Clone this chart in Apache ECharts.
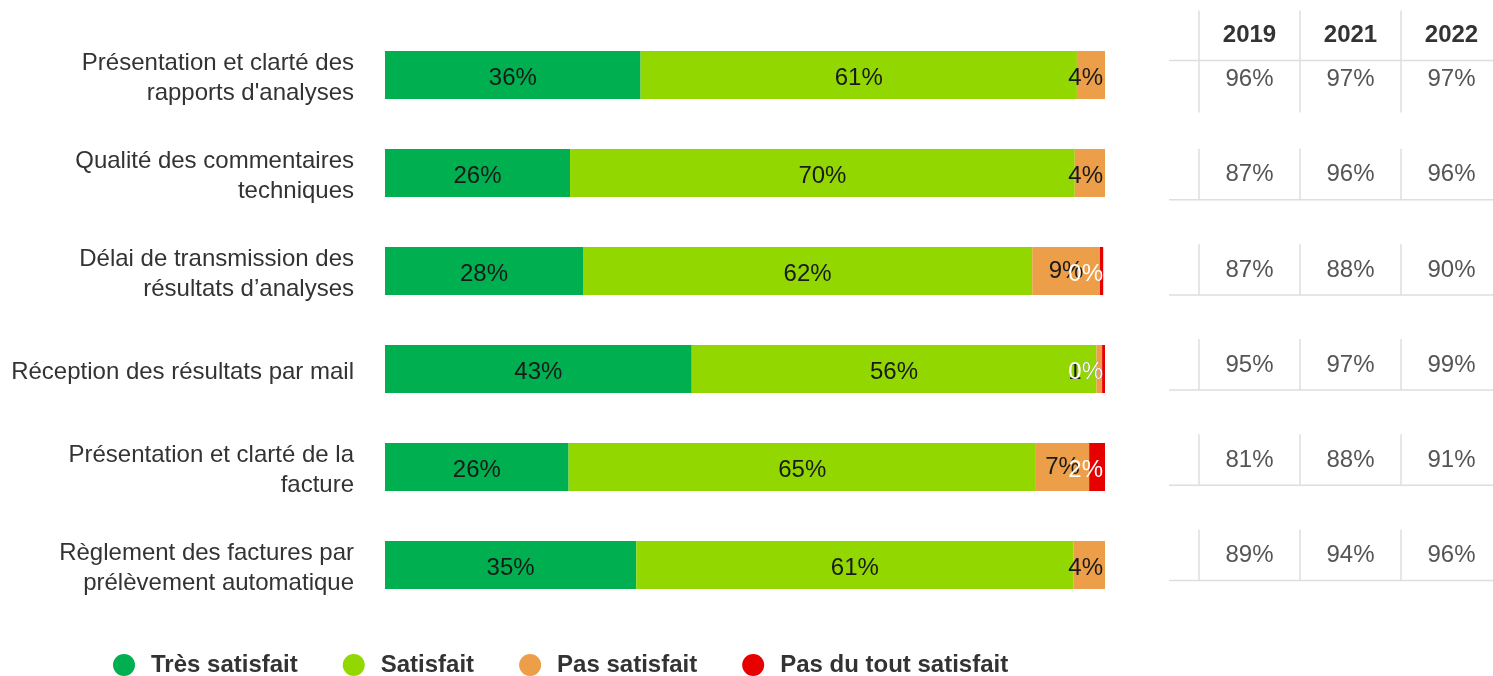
<!DOCTYPE html>
<html>
<head>
<meta charset="utf-8">
<title>Satisfaction</title>
<script src="https://cdn.jsdelivr.net/npm/echarts@6/dist/echarts.min.js"></script>
<style>
  html, body { margin: 0; padding: 0; background: #fff; }
  #chart { width: 1493px; height: 676px; }
</style>
</head>
<body>
<div id="chart"></div>
<script>
// questions (one row per bar)
var categories = [
    "Présentation et clarté des\nrapports d'analyses",
    "Qualité des commentaires\ntechniques",
    "Délai de transmission des\nrésultats d’analyses",
    "Réception des résultats par mail",
    "Présentation et clarté de la\nfacture",
    "Règlement des factures par\nprélèvement automatique"
];

// 2022 answers, in %
var tresSatisfait = [35.5, 25.7, 27.5, 42.6, 25.5, 34.9];
var satisfait = [60.6, 70.1, 62.4, 56.2, 64.9, 60.7];
var pasSatisfait = [3.9, 4.2, 9.4, 0.8, 7.4, 4.4];
var pasDuTout = [0, 0, 0.45, 0.4, 2.2, 0];

// satisfaction rate history
var years = ['2019', '2021', '2022'];
var score2019 = [96, 87, 87, 95, 81, 89];
var score2021 = [97, 96, 88, 97, 88, 94];
var score2022 = [97, 96, 90, 99, 91, 96];

var dom = document.getElementById("chart");
var myChart = echarts.init(dom);

var FONT = '"Liberation Sans", Arial, sans-serif';
var PLOT_LEFT = 385, PLOT_WIDTH = 720;

function pctLabel(color) {
    return {
        show: true,
        position: 'inside',
        color: color,
        fontSize: 24,
        fontFamily: FONT,
        offset: [0, 3],
        formatter: function (p) {
            if (p.value === 0) { return ''; }
            return Math.round(p.value) + '%';
        }
    };
}

// keep labels inside the plot (shift the ones that overflow on the right)
function justifyLabel(params) {
    var r = params.labelRect;
    var right = PLOT_LEFT + PLOT_WIDTH - 2;
    if (r && r.x + r.width > right) {
        return { x: right, y: r.y + r.height / 2, align: 'right', verticalAlign: 'middle' };
    }
    return {};
}

var tableData = [];
var scoreCols = [score2019, score2021, score2022];
for (var c = 0; c < scoreCols.length; c++) {
    for (var r = 0; r < categories.length; r++) {
        tableData.push([c, r, scoreCols[c][r]]);
    }
}

function renderCell(params, api) {
    var col = api.value(0);
    var row = api.value(1);
    var pt = api.coord([col, row]);
    var cw = api.size([1, 0])[0];
    var left = pt[0] - cw / 2;
    var lineStyle = { stroke: '#dedede', lineWidth: 1.5 };
    var children = [{
        type: 'text',
        style: {
            text: api.value(2) + '%',
            x: pt[0],
            y: pt[1],
            align: 'center',
            verticalAlign: 'middle',
            font: '24px ' + FONT,
            fill: '#555555'
        }
    }];
    var top = pt[1] - 26, bottom = pt[1] + 25;
    if (row === 0) {
        top = pt[1] - 69;
        bottom = pt[1] + 33;
    }
    children.push({ type: 'line', shape: { x1: left, y1: top, x2: left, y2: bottom }, style: lineStyle });
    if (col === 0) {
        var hy = row === 0 ? pt[1] - 19 : bottom;
        children.push({ type: 'line', shape: { x1: left - 30, y1: hy, x2: left + cw * 3 + 10, y2: hy }, style: lineStyle });
    }
    return { type: 'group', children: children };
}

var option = {
    backgroundColor: '#ffffff',
    animation: false,
    color: ['#00AF50', '#92D800', '#EC9F48', '#E60000'],
    legend: {
        left: 108,
        top: 648,
        icon: 'circle',
        itemWidth: 44,
        itemHeight: 22,
        itemGap: 45,
        textStyle: { fontSize: 24, fontWeight: 'bold', color: '#333333', fontFamily: FONT },
        data: ['Très satisfait', 'Satisfait', 'Pas satisfait', 'Pas du tout satisfait']
    },
    grid: [
        { left: PLOT_LEFT, width: PLOT_WIDTH, top: 26, height: 588, containLabel: false, outerBoundsMode: 'none' },
        { left: 1199, width: 303, top: 32, height: 571, containLabel: false, outerBoundsMode: 'none' }
    ],
    xAxis: [
        {
            gridIndex: 0,
            type: 'value',
            min: 0,
            max: 100,
            show: false
        },
        {
            gridIndex: 1,
            type: 'category',
            data: years,
            position: 'top',
            offset: -23,
            axisLine: { show: false },
            axisTick: { show: false },
            splitLine: { show: false },
            axisLabel: { fontSize: 24, fontWeight: 'bold', color: '#333333', fontFamily: FONT, margin: 8 }
        }
    ],
    yAxis: [
        {
            gridIndex: 0,
            type: 'category',
            inverse: true,
            data: categories,
            axisLine: { show: false },
            axisTick: { show: false },
            axisLabel: {
                fontSize: 24, color: '#333333', fontFamily: FONT, lineHeight: 30,
                margin: 31, align: 'right',
                // small spacer line on top pushes the text a few px down
                formatter: function (v) {
                    return '{s| }\n' + v.split('\n').map(function (t) { return '{a|' + t + '}'; }).join('\n');
                },
                rich: {
                    s: { fontSize: 4, lineHeight: 6 },
                    a: { fontSize: 24, color: '#333333', fontFamily: FONT, lineHeight: 30, align: 'right' }
                }
            }
        },
        {
            gridIndex: 1,
            type: 'category',
            inverse: true,
            data: categories,
            show: false
        }
    ],
    series: [
        {
            name: 'Très satisfait',
            type: 'bar',
            stack: 'total',
            barWidth: 48,
            label: pctLabel('#1a1a1a'),
            data: tresSatisfait
        },
        {
            name: 'Satisfait',
            type: 'bar',
            stack: 'total',
            barWidth: 48,
            label: pctLabel('#1a1a1a'),
            data: satisfait
        },
        {
            name: 'Pas satisfait',
            type: 'bar',
            stack: 'total',
            barWidth: 48,
            label: pctLabel('#1a1a1a'),
            labelLayout: justifyLabel,
            data: pasSatisfait
        },
        {
            name: 'Pas du tout satisfait',
            type: 'bar',
            stack: 'total',
            barWidth: 48,
            label: pctLabel('#ffffff'),
            labelLayout: justifyLabel,
            data: pasDuTout
        },
        {
            name: 'table',
            type: 'custom',
            xAxisIndex: 1,
            yAxisIndex: 1,
            renderItem: renderCell,
            data: tableData,
            silent: true
        }
    ]
};

if (option && typeof option === 'object') {
    myChart.setOption(option);
}
</script>
</body>
</html>
